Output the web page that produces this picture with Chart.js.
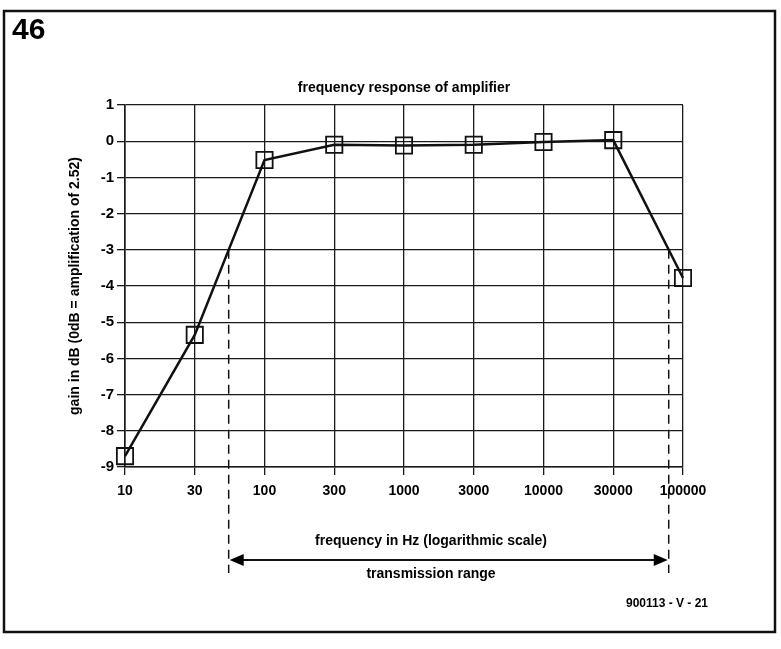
<!DOCTYPE html>
<html>
<head>
<meta charset="utf-8">
<script src="https://cdn.jsdelivr.net/npm/chart.js@4.4.1/dist/chart.umd.min.js"></script>
<style>
  html, body { margin: 0; padding: 0; background: #fff; }
  #wrap { width: 781px; height: 649px; position: relative; }
</style>
</head>
<body>
<div id="wrap"><canvas id="freqChart" width="781" height="649"></canvas></div>
<script>
const frequencies = ['10', '30', '100', '300', '1000', '3000', '10000', '30000', '100000'];
const gainDb = [-8.7, -5.35, -0.52, -0.1, -0.12, -0.1, -0.02, 0.03, -3.78];
const cutoffLevel = -3;

const FONT = '"Liberation Sans Narrow", "Liberation Sans", Arial, sans-serif';

// index (fractional) where the curve crosses the cutoff level
function crossings(values, level) {
    const out = [];
    for (let i = 0; i < values.length - 1; i++) {
        const a = values[i], b = values[i + 1];
        if ((a - level) * (b - level) < 0) {
            out.push(i + (level - a) / (b - a));
        }
    }
    return out;
}

function arrowHead(ctx, x, y, dir) {
    ctx.beginPath();
    ctx.moveTo(x, y);
    ctx.lineTo(x - dir * 14, y - 6);
    ctx.lineTo(x - dir * 14, y + 6);
    ctx.closePath();
    ctx.fill();
}

const decorations = {
    id: 'decorations',
    afterDraw(chart) {
        const ctx = chart.ctx;
        const xs = chart.scales.x, ys = chart.scales.y;
        const area = chart.chartArea;
        ctx.save();

        // outer frame
        ctx.strokeStyle = '#111';
        ctx.lineWidth = 2.5;
        ctx.strokeRect(4, 11, 771, 621);

        ctx.fillStyle = '#000';
        ctx.textAlign = 'left';
        ctx.textBaseline = 'middle';
        ctx.font = 'bold 30px ' + FONT;
        ctx.fillText('46', 12, 31);

        const midX = (area.left + area.right) / 2;
        ctx.textAlign = 'center';
        ctx.font = 'bold 14px ' + FONT;
        ctx.fillText('frequency response of amplifier', midX, 88);

        ctx.fillText('frequency in Hz (logarithmic scale)', 431, 541);
        ctx.fillText('transmission range', 431, 574);

        ctx.font = 'bold 12px ' + FONT;
        ctx.fillText('900113 - V - 21', 667, 604);

        ctx.save();
        ctx.translate(75, (area.top + area.bottom) / 2);
        ctx.rotate(-Math.PI / 2);
        ctx.font = 'bold 14px ' + FONT;
        ctx.fillText('gain in dB (0dB = amplification of 2.52)', 0, 0);
        ctx.restore();

        // cutoff markers and transmission range arrow
        const cuts = crossings(gainDb, cutoffLevel).map(i => xs.getPixelForValue(i));
        const yCut = ys.getPixelForValue(cutoffLevel);
        ctx.strokeStyle = '#111';
        ctx.lineWidth = 1.5;
        ctx.setLineDash([9, 6]);
        cuts.forEach(px => {
            ctx.beginPath();
            ctx.moveTo(px, yCut);
            ctx.lineTo(px, 573);
            ctx.stroke();
        });
        ctx.setLineDash([]);
        if (cuts.length === 2) {
            const ay = 560;
            ctx.lineWidth = 2;
            ctx.beginPath();
            ctx.moveTo(cuts[0] + 4, ay);
            ctx.lineTo(cuts[1] - 4, ay);
            ctx.stroke();
            ctx.fillStyle = '#000';
            arrowHead(ctx, cuts[0] + 1, ay, -1);
            arrowHead(ctx, cuts[1] - 1, ay, 1);
        }
        ctx.restore();
    }
};

new Chart(document.getElementById('freqChart').getContext('2d'), {
    type: 'line',
    data: {
        labels: frequencies,
        datasets: [{
            data: gainDb,
            borderColor: '#111',
            borderWidth: 2.5,
            tension: 0,
            pointStyle: 'rect',
            pointRadius: 11.5,
            pointBorderWidth: 1.8,
            pointBorderColor: '#111',
            pointBackgroundColor: 'rgba(0,0,0,0)'
        }]
    },
    options: {
        responsive: false,
        animation: false,
        layout: { padding: { left: 0, top: 105, right: 98, bottom: 0 } },
        plugins: {
            legend: { display: false },
            title: { display: false },
            tooltip: { enabled: false }
        },
        scales: {
            x: {
                type: 'category',
                offset: false,
                afterFit: s => { s.height = 182; },
                grid: { color: '#1a1a1a', lineWidth: 1.3, tickLength: 8 },
                border: { color: '#1a1a1a', width: 1.6 },
                ticks: {
                    color: '#000',
                    padding: 8,
                    maxRotation: 0,
                    font: { family: FONT, size: 14, weight: 'bold' }
                }
            },
            y: {
                min: -9,
                max: 1,
                afterFit: s => { s.width = 125; },
                grid: { color: '#1a1a1a', lineWidth: 1.3, tickLength: 8 },
                border: { color: '#1a1a1a', width: 1.6 },
                ticks: {
                    stepSize: 1,
                    color: '#000',
                    padding: 3,
                    font: { family: FONT, size: 15, weight: 'bold' }
                }
            }
        }
    },
    plugins: [decorations]
});
</script>
</body>
</html>
